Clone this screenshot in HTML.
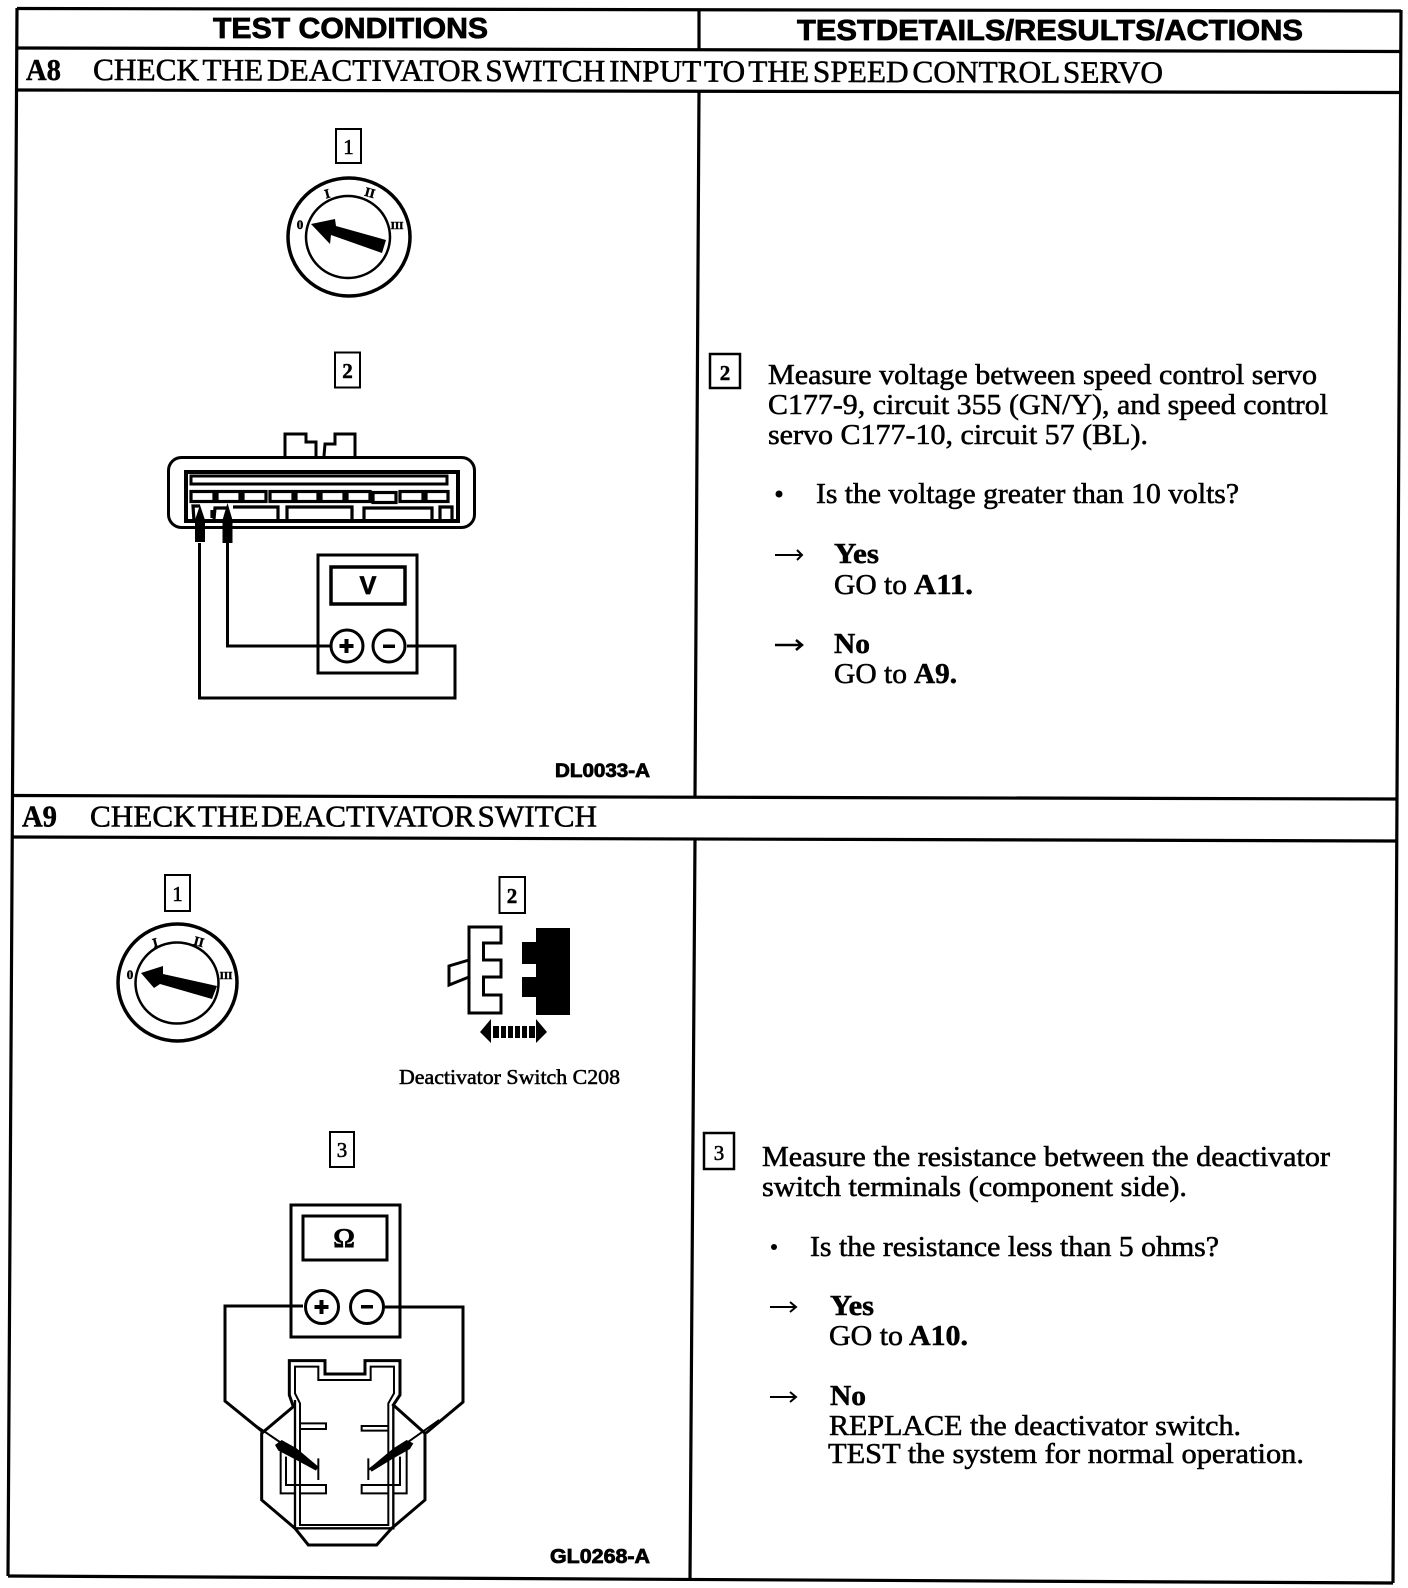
<!DOCTYPE html>
<html><head><meta charset="utf-8"><style>
html,body{margin:0;padding:0;background:#fff}
svg{display:block}
.s{font-family:"Liberation Serif",serif;fill:#000;stroke:#000;stroke-width:.55}
.b{font-family:"Liberation Serif",serif;font-weight:bold;fill:#000;stroke:#000;stroke-width:.5}
.h{font-family:"Liberation Sans",sans-serif;font-weight:bold;fill:#000;stroke:#000;stroke-width:.8}
.l{fill:none;stroke:#000;stroke-linejoin:miter}
</style></head><body>
<svg xmlns="http://www.w3.org/2000/svg" width="1408" height="1588" viewBox="0 0 1408 1588">
<rect width="1408" height="1588" fill="#fff"/>
<!-- table -->
<g class="l" stroke-width="3.2">
<path d="M17 8.5L1401 11M17 48L1401 51.5M17 90L1401 92.5M13 795.5L1397 799M13 837L1397 841M8 1576L1393 1583"/>
<path d="M17 8L8 1576M1401 10L1393 1583M699 9L699 50M699 92L695 797M695 839L690 1579"/>
</g>
<!-- headers -->
<text class="h" x="213" y="38" font-size="29" textLength="275" lengthAdjust="spacingAndGlyphs">TEST CONDITIONS</text>
<text class="h" x="797" y="40" font-size="29" textLength="506" lengthAdjust="spacingAndGlyphs">TESTDETAILS/RESULTS/ACTIONS</text>
<text class="b" x="26" y="80" font-size="31" textLength="35" lengthAdjust="spacingAndGlyphs">A8</text>
<text class="s" x="93" y="80" font-size="31" word-spacing="-4" textLength="1070" lengthAdjust="spacingAndGlyphs" transform="rotate(.15 93 80)">CHECK THE DEACTIVATOR SWITCH INPUT TO THE SPEED CONTROL SERVO</text>
<text class="b" x="22" y="826.5" font-size="31" textLength="35" lengthAdjust="spacingAndGlyphs">A9</text>
<text class="s" x="90" y="826.5" font-size="31" word-spacing="-5" textLength="507" lengthAdjust="spacingAndGlyphs">CHECK THE DEACTIVATOR SWITCH</text>

<!-- A8 box 1 + dial -->
<g class="l" stroke-width="2">
<rect x="336" y="129" width="25" height="34"/><rect x="335" y="352.5" width="25" height="35"/>
</g>
<text class="s" x="348.5" y="154" font-size="21" text-anchor="middle">1</text>
<text class="b" x="347.5" y="378" font-size="21" text-anchor="middle">2</text>
<g class="l">
<ellipse cx="349" cy="237" rx="61" ry="59" stroke-width="3.5"/>
<ellipse cx="348" cy="237" rx="42" ry="41" stroke-width="2.5"/>
</g>
<path d="M311 224L335 219L336 226L386 240L382 253L331 235L330 244Z"/>
<g class="b" font-size="13" text-anchor="middle">
<text x="300" y="229">0</text><text x="327" y="198" transform="rotate(-15 327 193)">I</text><text x="370" y="197" transform="rotate(15 370 192)">II</text><text x="397" y="229" font-size="11">III</text>
</g>

<!-- A8 connector -->
<g class="l" stroke-width="3">
<rect x="168.5" y="457.5" width="306" height="70" rx="13"/>
<path d="M285 456V434H306V442H316V456M324 456L325 444H335V434H355V456" stroke-width="3"/>
<path d="M186 521V472H458V521Z" stroke-width="4"/>
<path d="M191 476H447V484H191Z" stroke-width="3"/>
</g>
<g class="l" stroke-width="3.2">
<rect x="191" y="491.5" width="23" height="10"/><rect x="217" y="491.5" width="23" height="10"/><rect x="243" y="491.5" width="23" height="10"/><rect x="270" y="491.5" width="23" height="10"/><rect x="296" y="491.5" width="22" height="10"/><rect x="321" y="491.5" width="23" height="10"/><rect x="347" y="491.5" width="23" height="10"/><rect x="373" y="492.5" width="23" height="10"/><rect x="400" y="491.5" width="23" height="10"/><rect x="426" y="491.5" width="22" height="10"/>
<path d="M194 521L193 506H200M212 518V510M214 519L215 508H228M233 507H278V520M287 521V507H352V520M364 521V508H432V520M440 520V507H452V520"/>
</g>
<path d="M200 505L205 520V542H195V520ZM227.5 503L232.5 520V543H222.5V520Z"/>
<g class="l" stroke-width="3">
<path d="M199.5 543V698H455V646H407"/>
<path d="M227.5 543V646H331"/>
<rect x="318" y="555" width="99" height="118"/>
<rect x="331" y="567" width="74" height="37" stroke-width="3.5"/>
<circle cx="347" cy="646" r="16"/><circle cx="389" cy="646" r="16"/>
</g>
<text class="h" x="368" y="594" font-size="25" text-anchor="middle">V</text>
<path d="M344.5 639h4v5h5v4h-5v5h-4v-5h-5v-4h5zM383 644.5h12v3.5h-12z"/>
<text class="h" x="555" y="777" font-size="19" textLength="95" lengthAdjust="spacingAndGlyphs">DL0033-A</text>

<!-- A8 right -->
<rect class="l" x="710" y="354" width="30" height="34" stroke-width="2.5"/>
<text class="b" x="725" y="380" font-size="21" text-anchor="middle">2</text>
<text class="s" x="768" y="384" font-size="28.5" textLength="549" lengthAdjust="spacingAndGlyphs">Measure voltage between speed control servo</text>
<text class="s" x="768" y="414" font-size="28.5" textLength="560" lengthAdjust="spacingAndGlyphs">C177-9, circuit 355 (GN/Y), and speed control</text>
<text class="s" x="768" y="444" font-size="28.5" textLength="380" lengthAdjust="spacingAndGlyphs">servo C177-10, circuit 57 (BL).</text>
<circle cx="779" cy="494" r="3.5"/>
<text class="s" x="816" y="503" font-size="28.5" textLength="423" lengthAdjust="spacingAndGlyphs">Is the voltage greater than 10 volts?</text>
<path class="l" d="M775 555H802M797 550L802 555L797 560" stroke-width="2"/>
<text class="b" x="834" y="563" font-size="28.5" textLength="45" lengthAdjust="spacingAndGlyphs">Yes</text>
<text class="s" x="834" y="594" font-size="28.5" textLength="73" lengthAdjust="spacingAndGlyphs">GO to</text>
<text class="b" x="914" y="594" font-size="28.5" textLength="59" lengthAdjust="spacingAndGlyphs">A11.</text>
<path class="l" d="M775 645H802M796 640L802 645L796 650" stroke-width="2.5"/>
<text class="b" x="834" y="653" font-size="28.5" textLength="36" lengthAdjust="spacingAndGlyphs">No</text>
<text class="s" x="834" y="683" font-size="28.5" textLength="73" lengthAdjust="spacingAndGlyphs">GO to</text>
<text class="b" x="914" y="683" font-size="28.5" textLength="43" lengthAdjust="spacingAndGlyphs">A9.</text>

<!-- A9 left -->
<g class="l" stroke-width="2">
<rect x="165" y="875" width="25" height="36"/><rect x="499.5" y="877" width="25.5" height="36"/><rect x="330" y="1132" width="24" height="35"/>
</g>
<text class="s" x="177.5" y="901" font-size="21" text-anchor="middle">1</text>
<text class="b" x="512" y="903" font-size="21" text-anchor="middle">2</text>
<text class="s" x="342" y="1157" font-size="21" text-anchor="middle">3</text>
<g class="l">
<ellipse cx="177.5" cy="982.5" rx="59.5" ry="58.5" stroke-width="3.5"/>
<ellipse cx="177" cy="983" rx="41.5" ry="40.5" stroke-width="2.5"/>
</g>
<path d="M141 973L163 966L163 974L217 986L212 999L160 984L154 988Z"/>
<g class="b" font-size="13" text-anchor="middle">
<text x="130" y="979">0</text><text x="155" y="947" transform="rotate(-15 155 942)">I</text><text x="199" y="946" transform="rotate(15 199 941)">II</text><text x="226" y="979" font-size="11">III</text>
</g>
<path class="l" stroke-width="3" d="M469 927H501V943H483.5V960H501V977H483.5V995H501V1013H469ZM469 960L449 966V985L469 977"/>
<path d="M536 928H570V1015H536V997H522V977H536V964H522V942H536Z"/>
<path d="M480 1032L491 1019V1043ZM547 1032L536 1019V1043ZM493 1026h6v12h-6zM501 1026h5v12h-5zM508 1026h5v12h-5zM515 1026h5v12h-5zM522 1026h5v12h-5zM529 1026h6v12h-6z"/>
<text class="s" x="399" y="1084" font-size="21.5" textLength="221" lengthAdjust="spacingAndGlyphs">Deactivator Switch C208</text>

<!-- ohm meter -->
<g class="l" stroke-width="3">
<rect x="291" y="1205" width="109" height="132"/>
<rect x="303" y="1216" width="84" height="44"/>
<circle cx="322" cy="1307" r="16.5"/><circle cx="367" cy="1307" r="16.5"/>
<path d="M303 1306H225V1401L263 1432"/>
<path d="M385 1307H463V1402L426 1433"/>
</g>
<text class="b" x="344" y="1247" font-size="27" text-anchor="middle">Ω</text>
<path d="M319.5 1300h4v5h5v4h-5v5h-4v-5h-5v-4h5zM361 1305h12v3.5h-12z"/>
<!-- connector, drawn in 3x zoom units -->
<g transform="translate(250 1350) scale(.3333)">
<path class="l" stroke-width="9" d="M118 32H225V72H345V32H450V135L430 165L525 250V450L425 535L380 585H175L135 535L35 450V250L130 170L118 135Z"/>
<path class="l" stroke-width="6" d="M135 50H205V90H362V50H432V130L415 160V525H150V160L135 130Z"/>
<path class="l" stroke-width="7" d="M135 150V535H430V165"/>
<path class="l" stroke-width="6" d="M150 220H228V237H150M415 228H335V242H415"/>
<path class="l" stroke-width="6" d="M135 430H92V305M108 320V405H228V430H150M430 430H470V300M450 320V405H335V430H415"/>
<path class="l" stroke-width="6" d="M205 325V390M355 325V390M0 215L205 355M568 210L355 360"/>
<path d="M75 285L95 270L140 295L205 350L198 362L130 325L85 302ZM490 280L470 270L430 295L358 355L365 365L430 325L480 297Z"/>
</g>
<text class="h" x="550" y="1563" font-size="20.5" textLength="100" lengthAdjust="spacingAndGlyphs">GL0268-A</text>

<!-- A9 right -->
<rect class="l" x="704" y="1133" width="30" height="36" stroke-width="2.5"/>
<text class="s" x="719" y="1160" font-size="21" text-anchor="middle">3</text>
<text class="s" x="762" y="1166" font-size="28.5" textLength="568" lengthAdjust="spacingAndGlyphs">Measure the resistance between the deactivator</text>
<text class="s" x="762" y="1196" font-size="28.5" textLength="425" lengthAdjust="spacingAndGlyphs">switch terminals (component side).</text>
<circle cx="774" cy="1247" r="3"/>
<text class="s" x="810" y="1256" font-size="28.5" textLength="409" lengthAdjust="spacingAndGlyphs">Is the resistance less than 5 ohms?</text>
<path class="l" d="M770 1307H796M790 1302L796 1307L790 1312" stroke-width="2"/>
<text class="b" x="830" y="1315" font-size="28.5" textLength="44" lengthAdjust="spacingAndGlyphs">Yes</text>
<text class="s" x="829" y="1345" font-size="28.5" textLength="74" lengthAdjust="spacingAndGlyphs">GO to</text>
<text class="b" x="909" y="1345" font-size="28.5" textLength="59" lengthAdjust="spacingAndGlyphs">A10.</text>
<path class="l" d="M770 1397H796M790 1392L796 1397L790 1402" stroke-width="2"/>
<text class="b" x="830" y="1405" font-size="28.5" textLength="36" lengthAdjust="spacingAndGlyphs">No</text>
<text class="s" x="829" y="1435" font-size="28.5" textLength="412" lengthAdjust="spacingAndGlyphs">REPLACE the deactivator switch.</text>
<text class="s" x="828" y="1463" font-size="28.5" textLength="476" lengthAdjust="spacingAndGlyphs">TEST the system for normal operation.</text>
</svg>
</body></html>
